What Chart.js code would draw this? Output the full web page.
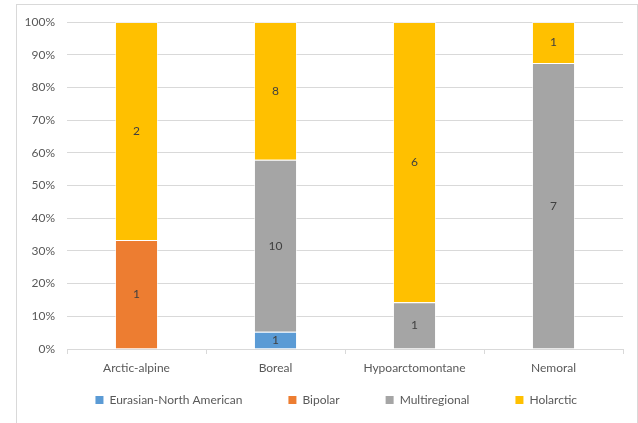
<!DOCTYPE html>
<html>
<head>
<meta charset="utf-8">
<script src="https://cdn.jsdelivr.net/npm/chart.js@4"></script>
<style>
  body { margin: 0; background: #fff; }
  #wrap { position: relative; width: 638px; height: 423px; overflow: hidden; }
  #frame { position: absolute; left: 16px; top: 4px; width: 620px; height: 440px; border: 1px solid #d9d9d9; }
  canvas { position: absolute; left: 0; top: 0; }
</style>
</head>
<body>
<div id="wrap">
  <div id="frame"></div>
  <canvas id="chart" width="638" height="423"></canvas>
</div>
<script>
// categories and counts per distribution type
const categories = ['Arctic-alpine', 'Boreal', 'Hypoarctomontane', 'Nemoral'];
const eurasianNA = [0, 1, 0, 0];
const bipolar = [1, 0, 0, 0];
const multiregional = [0, 10, 1, 7];
const holarctic = [2, 8, 6, 1];
const yTicks = [0, 10, 20, 30, 40, 50, 60, 70, 80, 90, 100];

const series = [
  { label: 'Eurasian-North American', counts: eurasianNA, color: '#5B9BD5' },
  { label: 'Bipolar', counts: bipolar, color: '#ED7D31' },
  { label: 'Multiregional', counts: multiregional, color: '#A5A5A5' },
  { label: 'Holarctic', counts: holarctic, color: '#FFC000' }
];

const totals = categories.map((c, i) => series.reduce((s, d) => s + d.counts[i], 0));

const FONT = 'Lato, "Liberation Sans", sans-serif';
Chart.defaults.font.family = FONT;
Chart.defaults.font.size = 12;
Chart.defaults.color = '#595959';

// draws the counts in the middle of each segment
const segmentLabels = {
  id: 'segmentLabels',
  afterDatasetsDraw(chart) {
    const ctx = chart.ctx;
    ctx.save();
    ctx.font = '12px ' + FONT;
    ctx.fillStyle = '#404040';
    ctx.textAlign = 'center';
    ctx.textBaseline = 'middle';
    chart.data.datasets.forEach((ds, di) => {
      const meta = chart.getDatasetMeta(di);
      meta.data.forEach((bar, i) => {
        const n = series[di].counts[i];
        if (!n) return;
        const mid = (bar.y + bar.base) / 2;
        ctx.fillText(String(n), bar.x, mid);
      });
    });
    ctx.restore();
  }
};

new Chart(document.getElementById('chart'), {
  type: 'bar',
  data: {
    labels: categories,
    datasets: series.map(s => ({
      label: s.label,
      data: s.counts.map((v, i) => v / totals[i] * 100),
      backgroundColor: s.color,
      borderColor: 'rgba(255,255,255,0.6)',
      borderWidth: 1,
      categoryPercentage: 1,
      barPercentage: 0.31
    }))
  },
  options: {
    responsive: false,
    animation: false,
    layout: { padding: { left: 16, right: 15, top: 22, bottom: 6 } },
    plugins: {
      tooltip: { enabled: false },
      legend: {
        position: 'bottom',
        align: 'end',
        labels: {
          boxWidth: 8,
          boxHeight: 8,
          padding: 46,
          color: '#595959',
          font: { size: 12 },
          generateLabels(chart) {
            return Chart.defaults.plugins.legend.labels.generateLabels(chart)
              .map(l => Object.assign(l, { lineWidth: 0 }));
          }
        }
      }
    },
    scales: {
      x: {
        stacked: true,
        offset: true,
        // wide legend padding: let the (unclipped, mirrored) labels overlap the legend box
        afterFit(scale) { scale.height = -1; },
        grid: { offset: true, drawOnChartArea: false, tickLength: 5, color: '#d9d9d9' },
        border: { color: '#d9d9d9' },
        ticks: { mirror: true, padding: -26 }
      },
      y: {
        stacked: true,
        min: 0,
        max: 100,
        afterFit(scale) { scale.width = 51; },
        afterBuildTicks(scale) { scale.ticks = yTicks.map(v => ({ value: v })); },
        grid: { color: '#d9d9d9', drawTicks: false },
        border: { display: false },
        ticks: { padding: 12, callback: v => v + '%' }
      }
    }
  },
  plugins: [segmentLabels]
});
</script>
</body>
</html>
